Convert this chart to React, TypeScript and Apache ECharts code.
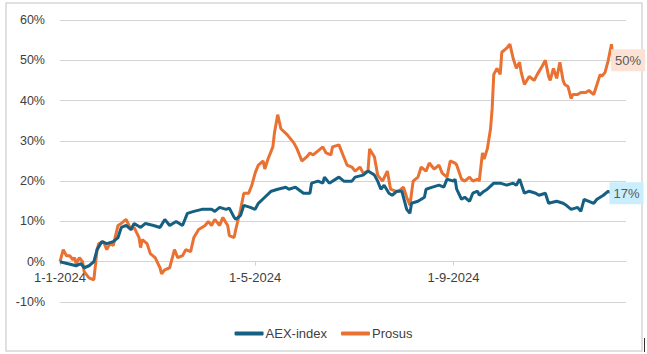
import React, { useEffect, useRef } from "react";
import * as echarts from "echarts";

// Day offsets from 1-1-2024 and returns (%)
const aexDays = [0,5,10,13,15,18,21,23,26,29,33,36,38,41,44,46,50,53,58,62,65,68,72,76,79,83,88,94,96,99,103,105,108,109,112,114,118,121,123,127,131,135,140,142,146,151,155,156,160,163,164,167,171,173,176,181,183,188,191,195,197,199,201,204,206,209,212,213,215,217,218,222,226,227,231,235,238,240,244,245,246,249,251,254,256,259,260,263,265,269,273,277,281,283,285,288,291,295,297,301,303,308,312,314,317,321,323,325,328,331,333,337,340,342];
const aexValues = [0,-0.5,-1,-0.5,-1.5,-1,0,3,5,4.5,5,6,8.5,9,8,9.5,8.5,9.5,9,8.5,10.5,9,10,9,12,12.5,13,13,12.5,13.5,13,13.3,11,10.5,11.5,14,13.5,13,14.5,16,17.5,18,18.5,18,18.5,17,17,19.5,20,19.5,21,19.5,20.5,21,20,20,21,21.5,22.5,21.5,20,18,19,17,16.5,17.5,17.5,16,13,12,14.5,15,16,18,18.5,19,18.5,20.5,20,20.5,18,15.5,16,15,17,17.5,16.5,17.5,18,19.5,19.5,19,19.5,19,20.5,17,17.5,17,16.5,17,14.5,15,14.5,14,13,13.5,12.5,15.5,15,14.5,15.5,16.5,17.5,17];

const prosusDays = [0,2,4,6,8,9,10,12,14,15,17,18,21,23,24,27,29,31,33,36,38,41,44,46,49,50,51,54,56,59,62,63,65,68,71,73,76,78,81,83,86,90,92,94,96,99,101,104,105,108,109,112,114,117,119,121,123,126,127,129,132,133,135,137,141,144,145,147,150,153,155,157,160,163,165,168,169,173,176,178,181,183,186,188,191,192,195,197,200,203,205,208,210,213,215,217,219,222,224,227,229,232,235,237,240,242,245,246,249,251,254,256,259,260,262,263,265,267,268,269,271,273,274,277,279,281,283,285,286,288,291,294,296,299,301,303,304,306,308,310,312,313,315,317,318,321,323,326,328,331,333,335,336,338,340,341,342,343];
const prosusValues = [0,3,1.5,1.5,0.5,1,-0.5,1,0,-2.5,-3.5,-4,-4.5,3,4.5,5,3,4.5,4,9,9.5,10.5,8,8.5,6,3.5,5.5,4.5,2,1,-1.5,-3,-2,-1.5,3,1,1.5,3,2.5,6,8,9,10,9,10.5,9,11,9,6.5,6,8,13,17,17,19,22,24,25,23,25.5,28.5,32,36.5,33,31.5,30,29.5,28,25,26,27,26.5,27.5,28.5,27,26.5,28.5,29,26,24,23.5,22.5,23.5,22,22.5,28,26,21.5,20,22.5,18,17.5,17.5,18.5,16,14,20,21,23.5,22.5,24.5,23,24,22,21,25,24.5,24,20.5,20,21,20,20.5,20,27,25.5,28,33,38,46.5,48,46.5,52,53,54,50.5,48,49.5,47,44,46,45,46.5,48.5,50,46,45,48,45.5,49.5,45,44,43.5,40.5,41.5,41.5,42,42,42.5,41.5,44,46.5,46,47,50,52,54,50];

const tickDays = [0, 121, 244];
const tickLabels = ["1-1-2024", "1-5-2024", "1-9-2024"];
const seriesNames = ["AEX-index", "Prosus"];
const yMin = -10;
const yMax = 60;

export default function App() {
  const ref = useRef<HTMLDivElement>(null);
  useEffect(() => {
    if (!ref.current) return;
    const chart = echarts.init(ref.current, null, { renderer: "svg" });
    const font = "Liberation Sans, Arial, sans-serif";
    const gridTop = 20;
    const gridHeight = 282;
    // distance from the bottom of the grid up to the 0% line
    const zeroOffset = -(gridHeight * (0 - yMin)) / (yMax - yMin);
    const endLabel = (bg: string) => ({
      show: true,
      formatter: (p: any) => Math.round(p.value[1]) + "%",
      backgroundColor: bg,
      color: "#595959",
      fontFamily: font,
      fontSize: 13,
      padding: [5, 4, 4, 4],
      distance: -2,
    });
    chart.setOption({
      animation: false,
      grid: { left: 60, top: gridTop, width: 566, height: gridHeight, containLabel: false },
      legend: {
        data: seriesNames,
        left: "center",
        top: 322,
        icon: "roundRect",
        itemWidth: 29,
        itemHeight: 4,
        itemGap: 14,
        textStyle: { color: "#404040", fontSize: 13, fontFamily: font, padding: [0, 0, 0, -3] },
      },
      xAxis: {
        type: "value",
        min: 0,
        max: 351,
        position: "bottom",
        offset: zeroOffset,
        axisLine: { onZero: false, lineStyle: { color: "#d4d4d4", width: 1 } },
        axisTick: { show: true, customValues: tickDays, length: 4, lineStyle: { color: "#d4d4d4" } },
        axisLabel: {
          customValues: tickDays,
          showMinLabel: true,
          formatter: (v: number) => tickLabels[tickDays.indexOf(Math.round(v))] ?? "",
          color: "#404040",
          fontSize: 13,
          fontFamily: font,
          margin: 9,
        },
        splitLine: { show: false },
      },
      yAxis: {
        type: "value",
        min: yMin,
        max: yMax,
        interval: 10,
        axisLine: { show: false },
        axisTick: { show: false },
        axisLabel: { formatter: "{value}%", color: "#404040", fontSize: 12.5, fontFamily: font, margin: 15 },
        splitLine: { show: true, lineStyle: { color: "#d4d4d4", width: 1 } },
      },
      graphic: [
        { type: "rect", shape: { x: 6, y: 3, width: 636, height: 348 }, style: { fill: "none", stroke: "#d6d6d6", lineWidth: 1.5 }, silent: true },
        { type: "line", shape: { x1: 644.5, y1: 338, x2: 644.5, y2: 352 }, style: { stroke: "#333", lineWidth: 1 }, silent: true },
      ],
      series: [
        {
          name: seriesNames[0],
          type: "line",
          showSymbol: false,
          color: "#156082",
          lineStyle: { width: 3, color: "#156082" },
          data: aexDays.map((d, i) => [d, aexValues[i]]),
          endLabel: endLabel("#caeefb"),
          z: 3,
        },
        {
          name: seriesNames[1],
          type: "line",
          showSymbol: false,
          color: "#e97132",
          lineStyle: { width: 3, color: "#e97132" },
          data: prosusDays.map((d, i) => [d, prosusValues[i]]),
          endLabel: endLabel("#fbe2d5"),
          z: 2,
        },
      ],
    });
    return () => chart.dispose();
  }, []);
  return (
    <div style={{ position: "fixed", left: 0, top: 0, width: 647, height: 354, background: "#fff" }}>
      <div ref={ref} style={{ width: 647, height: 354 }} />
    </div>
  );
}
